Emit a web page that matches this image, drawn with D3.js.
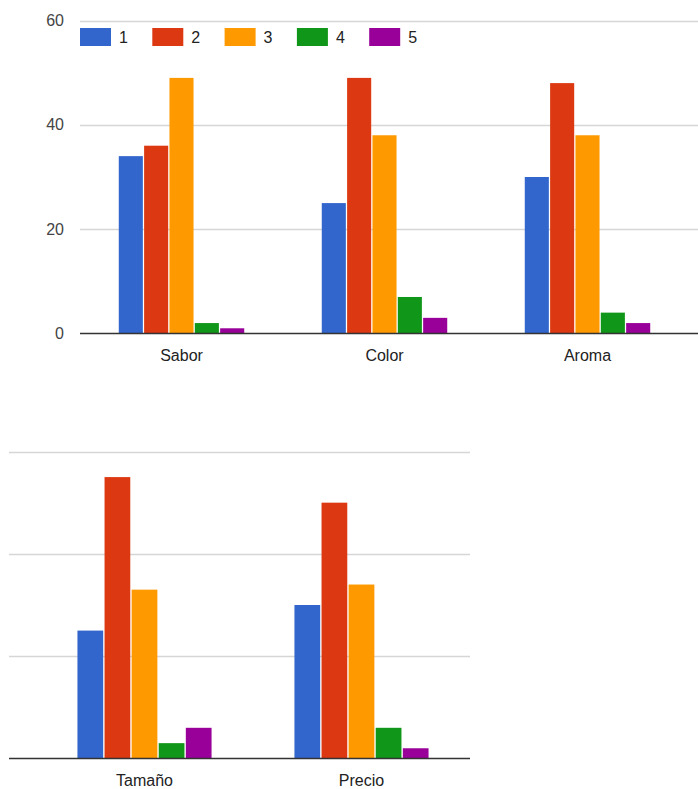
<!DOCTYPE html>
<html>
<head>
<meta charset="utf-8">
<script src="https://cdn.jsdelivr.net/npm/d3@7"></script>
<style>
  html, body { margin: 0; padding: 0; background: #fff; }
  svg { display: block; font-family: "Liberation Sans", Arial, sans-serif; }
</style>
</head>
<body>
<svg id="chart" width="698" height="789"></svg>
<script>
// Ratings 1–5 for each product attribute
const categories = ["Sabor", "Color", "Aroma", "Tamaño", "Precio"];
const seriesNames = ["1", "2", "3", "4", "5"];
const series1 = [34, 25, 30, 25, 30];
const series2 = [36, 49, 48, 55, 50];
const series3 = [49, 38, 38, 33, 34];
const series4 = [2, 7, 4, 3, 6];
const series5 = [1, 3, 2, 6, 2];
const colors = ["#3366cc", "#dc3912", "#ff9900", "#109618", "#990099"];
const yTicks = [0, 20, 40, 60];

const allSeries = [series1, series2, series3, series4, series5];
const rows = categories.map((c, i) => ({
  category: c,
  values: seriesNames.map((s, j) => ({ key: s, value: allSeries[j][i] }))
}));

const svg = d3.select("#chart");

// One bar panel: its own x band, y linear scale, gridlines and baseline
function panel(cfg) {
  const data = rows.filter(r => cfg.cats.includes(r.category));
  const x = d3.scaleBand().domain(cfg.cats).range([cfg.x0, cfg.x1]).paddingInner(0.382).paddingOuter(0.191);
  const xi = d3.scaleBand().domain(seriesNames).range([0, x.bandwidth()]).paddingInner(0.05);
  const y = d3.scaleLinear().domain([0, 60]).range([cfg.base, cfg.top]);
  const g = svg.append("g");

  // gridlines
  g.append("g").selectAll("line").data(yTicks.filter(t => t > 0)).join("line")
    .attr("x1", cfg.gx0).attr("x2", cfg.gx1)
    .attr("y1", d => Math.round(y(d)) + 0.5).attr("y2", d => Math.round(y(d)) + 0.5)
    .attr("stroke", "#d6d6d6").attr("stroke-width", 1.5);

  // y labels
  if (cfg.yLabels) {
    const ax = g.append("g").attr("transform", `translate(${cfg.labelX},0)`)
      .call(d3.axisLeft(y).tickValues(yTicks).tickSize(0).tickPadding(0));
    ax.select(".domain").remove();
    ax.selectAll("text").attr("font-size", 16).attr("fill", "#444")
      .attr("font-family", "'Liberation Sans', Arial, sans-serif");
  }

  // bars
  g.append("g").selectAll("g").data(data).join("g")
    .attr("transform", d => `translate(${x(d.category)},0)`)
    .selectAll("rect").data(d => d.values).join("rect")
    .attr("x", d => xi(d.key))
    .attr("width", xi.bandwidth())
    .attr("y", d => y(d.value))
    .attr("height", d => y(0) - y(d.value))
    .attr("fill", (d, i) => colors[i]);

  // baseline
  g.append("line")
    .attr("x1", cfg.gx0).attr("x2", cfg.gx1)
    .attr("y1", y(0)).attr("y2", y(0))
    .attr("stroke", "#333").attr("stroke-width", 1.5);

  // category labels
  const xa = g.append("g").attr("transform", `translate(0,${y(0)})`)
    .call(d3.axisBottom(x).tickSize(0).tickPadding(16));
  xa.select(".domain").remove();
  xa.selectAll("text").attr("font-size", 16).attr("fill", "#222")
    .attr("font-family", "'Liberation Sans', Arial, sans-serif");
}

panel({ cats: ["Sabor", "Color", "Aroma"], x0: 80, x1: 689, gx0: 80, gx1: 698,
        base: 333.5, top: 20.5, yLabels: true, labelX: 64 });
panel({ cats: ["Tamaño", "Precio"], x0: 36, x1: 470, gx0: 9, gx1: 470,
        base: 758.5, top: 451.5, yLabels: false });

// legend
const legend = svg.append("g").attr("transform", "translate(80,28)");
const li = legend.selectAll("g").data(seriesNames).join("g")
  .attr("transform", (d, i) => `translate(${i * 72.3},0)`);
li.append("rect").attr("width", 31).attr("height", 18).attr("fill", (d, i) => colors[i]);
li.append("text").attr("x", 39).attr("y", 15).attr("font-size", 16).attr("fill", "#222")
  .text(d => d);
</script>
</body>
</html>
